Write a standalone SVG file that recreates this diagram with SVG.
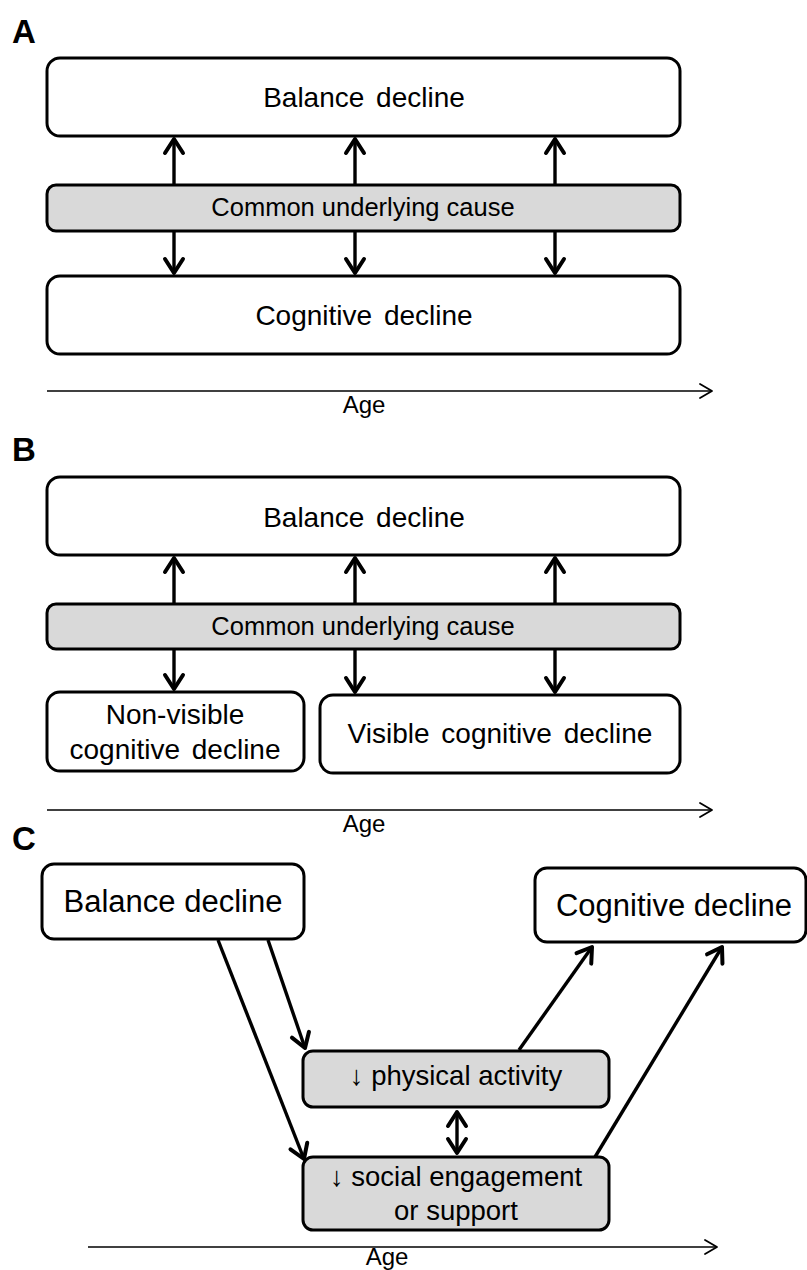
<svg xmlns="http://www.w3.org/2000/svg" width="807" height="1270" viewBox="0 0 807 1270">
  <style>
    text { font-family: "Liberation Sans", Arial, sans-serif; fill: #000; }
    .box { fill: #fff; stroke: #000; stroke-width: 3; }
    .gray { fill: #d9d9d9; stroke: #000; stroke-width: 3; }
    .lbl { font-size: 33px; font-weight: bold; }
    .big { font-size: 28px; text-anchor: middle; word-spacing: 4px; }
    .mid { font-size: 25.5px; text-anchor: middle; }
    .cbox { font-size: 31px; text-anchor: middle; }
    .small { font-size: 27.5px; text-anchor: middle; }
    .age { font-size: 24px; text-anchor: middle; }
    .conn { stroke: #000; stroke-width: 3.4; fill: none; marker-end: url(#head); }
    .dbl { marker-start: url(#headStart); }
    .axis { stroke: #000; stroke-width: 1.6; fill: none; marker-end: url(#open); }
  </style>
  <defs>
    <marker id="head" markerUnits="userSpaceOnUse" viewBox="-18 -12 20 24" markerWidth="20" markerHeight="24" refX="0" refY="0" orient="auto" overflow="visible">
      <path d="M-14,-9 L0,0 L-14,9" fill="none" stroke="#000" stroke-width="4" stroke-linejoin="round" stroke-linecap="round"/>
    </marker>
    <marker id="headStart" markerUnits="userSpaceOnUse" viewBox="-2 -12 20 24" markerWidth="20" markerHeight="24" refX="0" refY="0" orient="auto" overflow="visible">
      <path d="M14,-9 L0,0 L14,9" fill="none" stroke="#000" stroke-width="4" stroke-linejoin="round" stroke-linecap="round"/>
    </marker>
    <marker id="open" markerUnits="userSpaceOnUse" viewBox="-14 -9 16 18" markerWidth="16" markerHeight="18" refX="0" refY="0" orient="auto" overflow="visible">
      <path d="M-12,-7 L0,0 L-12,7" fill="none" stroke="#000" stroke-width="1.8" stroke-linejoin="round" stroke-linecap="round"/>
    </marker>
  </defs>

  <!-- Panel labels -->
  <text class="lbl" x="12" y="43">A</text>
  <text class="lbl" x="12" y="461">B</text>
  <text class="lbl" x="12" y="850">C</text>

  <!-- Panel A -->
  <g id="a-balance">
    <rect class="box" x="47" y="58" width="633" height="78" rx="13"/>
    <text class="big" x="364" y="107">Balance decline</text>
  </g>
  <g id="a-cause">
    <rect class="gray" x="47" y="185" width="633" height="46" rx="9"/>
    <text class="mid" x="363" y="216">Common underlying cause</text>
  </g>
  <g id="a-cognitive">
    <rect class="box" x="47" y="276" width="633" height="78" rx="13"/>
    <text class="big" x="364" y="325">Cognitive decline</text>
  </g>

  <!-- Panel B -->
  <g id="b-balance">
    <rect class="box" x="47" y="477" width="633" height="78" rx="13"/>
    <text class="big" x="364" y="527">Balance decline</text>
  </g>
  <g id="b-cause">
    <rect class="gray" x="47" y="604" width="633" height="45" rx="9"/>
    <text class="mid" x="363" y="635">Common underlying cause</text>
  </g>
  <g id="b-nonvisible">
    <rect class="box" x="47" y="692" width="257" height="79" rx="13"/>
    <text class="big" x="175" y="724">Non-visible</text>
    <text class="big" x="175" y="759">cognitive decline</text>
  </g>
  <g id="b-visible">
    <rect class="box" x="320" y="695" width="360" height="78" rx="13"/>
    <text class="big" x="500" y="743">Visible cognitive decline</text>
  </g>

  <!-- Panel C -->
  <g id="c-balance">
    <rect class="box" x="42" y="864" width="262" height="75" rx="12"/>
    <text class="cbox" x="173" y="912">Balance decline</text>
  </g>
  <g id="c-cognitive">
    <rect class="box" x="535" y="868" width="271" height="74" rx="12"/>
    <text class="cbox" x="674" y="916">Cognitive decline</text>
  </g>
  <g id="c-physical">
    <rect class="gray" x="303" y="1051" width="306" height="56" rx="10"/>
    <text class="small" x="456" y="1085">↓ physical activity</text>
  </g>
  <g id="c-social">
    <rect class="gray" x="303" y="1157" width="306" height="73" rx="10"/>
    <text class="small" x="456" y="1186">↓ social engagement</text>
    <text class="small" x="456" y="1220">or support</text>
  </g>

  <!-- Connectors -->
  <g id="connectors">
    <!-- A: cause to balance / cognitive -->
    <line class="conn" x1="174" y1="185" x2="174" y2="139"/>
    <line class="conn" x1="355" y1="185" x2="355" y2="139"/>
    <line class="conn" x1="555" y1="185" x2="555" y2="139"/>
    <line class="conn" x1="174" y1="231" x2="174" y2="273"/>
    <line class="conn" x1="355" y1="231" x2="355" y2="273"/>
    <line class="conn" x1="555" y1="231" x2="555" y2="273"/>
    <!-- B: cause to balance / cognitive -->
    <line class="conn" x1="174" y1="604" x2="174" y2="558"/>
    <line class="conn" x1="355" y1="604" x2="355" y2="558"/>
    <line class="conn" x1="555" y1="604" x2="555" y2="558"/>
    <line class="conn" x1="174" y1="649" x2="174" y2="689"/>
    <line class="conn" x1="355" y1="649" x2="355" y2="692"/>
    <line class="conn" x1="555" y1="649" x2="555" y2="692"/>
    <!-- C: pathways -->
    <line class="conn" x1="218" y1="940" x2="304" y2="1159"/>
    <line class="conn" x1="268" y1="940" x2="305" y2="1048"/>
    <line class="conn" x1="519" y1="1050" x2="592" y2="947"/>
    <line class="conn" x1="595" y1="1157" x2="722" y2="947"/>
    <line class="conn dbl" x1="457" y1="1112" x2="457" y2="1153"/>
    <!-- Age axes -->
    <line class="axis" x1="47" y1="391" x2="712" y2="391"/>
    <line class="axis" x1="47" y1="810" x2="712" y2="810"/>
    <line class="axis" x1="88" y1="1247" x2="717" y2="1247"/>
  </g>

  <text class="age" x="364" y="413">Age</text>
  <text class="age" x="364" y="832">Age</text>
  <text class="age" x="387" y="1265">Age</text>
</svg>
